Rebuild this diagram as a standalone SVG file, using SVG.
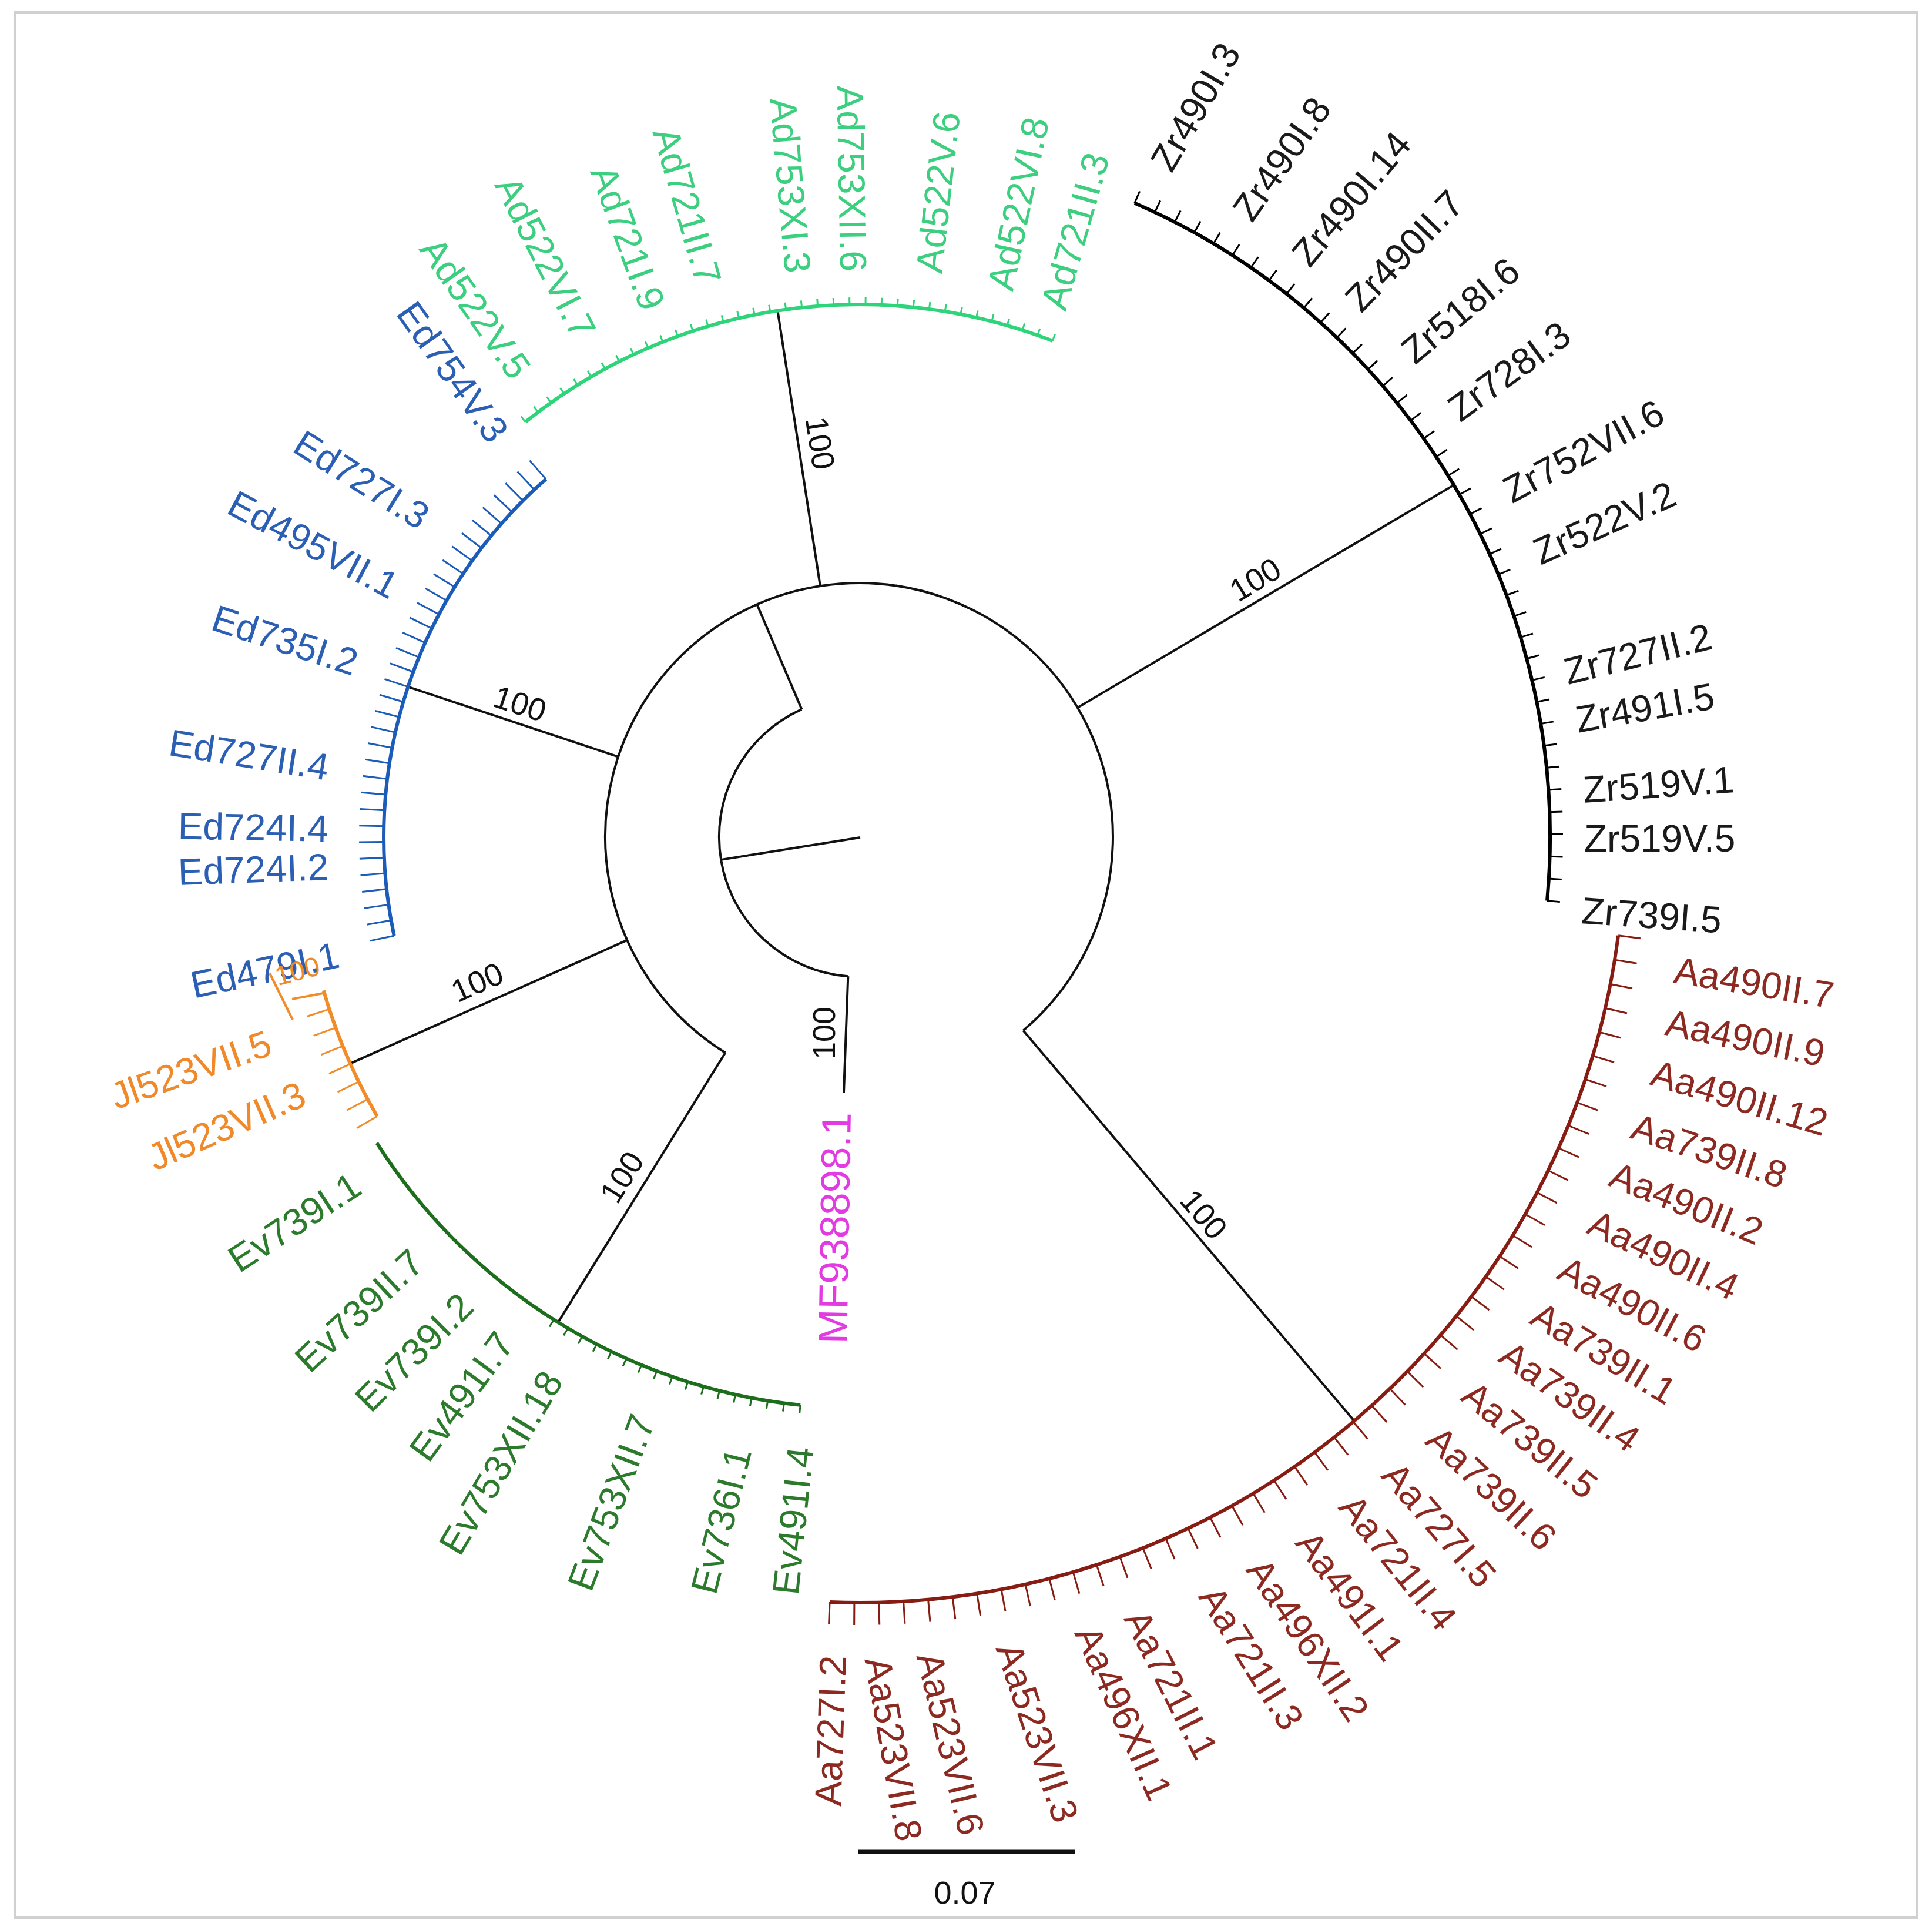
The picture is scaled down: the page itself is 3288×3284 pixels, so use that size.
<svg xmlns="http://www.w3.org/2000/svg" width="3288" height="3284" viewBox="0 0 3288 3284">
<style>
text{font-family:"Liberation Sans",Arial,"DejaVu Sans",sans-serif;dominant-baseline:central}
.lb{font-size:64px}
.s{text-anchor:start}
.e{text-anchor:end}
.bs{font-size:54px;text-anchor:middle;fill:#111}
.bb{fill:none;stroke:#111;stroke-width:4}
.arc{fill:none;stroke-width:6}
.tk{fill:none}
.zr{fill:#1a1a1a}.zrs{stroke:#000}
.aa{fill:#8c2a22}.aas{stroke:#861c12}
.ad{fill:#3ccf7f}.ads{stroke:#2fd47a}
.ed{fill:#2b5fb3}.eds{stroke:#1a5cb8}
.jl{fill:#f0892a}.jls{stroke:#f28c28}
.ev{fill:#2c7a2c}.evs{stroke:#1c6e1c}
.mf{fill:#e23be2;font-size:70px}
</style>
<rect x="0" y="0" width="3288" height="3284" fill="#fff"/>
<rect x="25" y="21" width="3238" height="3242" fill="none" stroke="#d0d0d0" stroke-width="4"/>

<g id="connectors">
<path class="bb" d="M1464,1425 L1227.2,1462.9"/>
<path class="bb" d="M1364.4,1206.9 A238,238 0 0 0 1443.3,1661.3"/>
<path class="bb" d="M1364.4,1206.9 L1289,1030"/>
<path class="bb" d="M1443.3,1661.3 L1436,1859"/>
<path class="bb" d="M1234.4,1791.2 A432,432 0 1 1 1741.4,1753.5"/>
<path class="bb" d="M1234.4,1791.2 L949.8,2250.1"/>
<path class="bb" d="M1067.4,1599.7 L596.0,1809.6"/>
<path class="bb" d="M1052.1,1287.6 L694.4,1168.6"/>
<path class="bb" d="M1395.9,997.1 L1323.4,528.7"/>
<path class="bb" d="M1833.8,1204.1 L2474.2,825.4"/>
<path class="bb" d="M1741.4,1753.5 L2304.8,2417.8"/>
<g id="support-values">
<text class="bs" transform="translate(1396,754) rotate(81)">100</text>
<text class="bs" transform="translate(2136,986) rotate(-31)">100</text>
<text class="bs" transform="translate(885,1197) rotate(18)">100</text>
<text class="bs" transform="translate(812,1671) rotate(-24)">100</text>
<text class="bs" transform="translate(1058,2003) rotate(-58)">100</text>
<text class="bs" transform="translate(2049,2066) rotate(50)">100</text>
<text class="bs" transform="translate(1402,1758) rotate(-90)">100</text>
</g>
</g>

<g id="clade-Zr">
<path class="arc zrs" d="M1930.9,345.5 A1176,1176 0 0 1 2633.0,1532.6"/>
<path class="tk zrs" stroke-width="22" stroke-dasharray="3 35.14" d="M1933.9,334.9 A1187,1187 0 0 1 2643.8,1535.1"/>
<text id="Zr490I.3" class="lb s zr" transform="translate(1975,285) rotate(-60)">Zr490I.3</text>
<text id="Zr490I.8" class="lb s zr" transform="translate(2113,368) rotate(-55)">Zr490I.8</text>
<text id="Zr490I.14" class="lb s zr" transform="translate(2212,443) rotate(-50)">Zr490I.14</text>
<text id="Zr490II.7" class="lb s zr" transform="translate(2301,519) rotate(-46)">Zr490II.7</text>
<text id="Zr518I.6" class="lb s zr" transform="translate(2394,605) rotate(-40)">Zr518I.6</text>
<text id="Zr728I.3" class="lb s zr" transform="translate(2472,702) rotate(-36)">Zr728I.3</text>
<text id="Zr752VII.6" class="lb s zr" transform="translate(2563,838) rotate(-28)">Zr752VII.6</text>
<text id="Zr522V.2" class="lb s zr" transform="translate(2613,942) rotate(-24)">Zr522V.2</text>
<text id="Zr727II.2" class="lb s zr" transform="translate(2663,1144) rotate(-14)">Zr727II.2</text>
<text id="Zr491I.5" class="lb s zr" transform="translate(2682,1225) rotate(-10)">Zr491I.5</text>
<text id="Zr519V.1" class="lb s zr" transform="translate(2694,1344) rotate(-4)">Zr519V.1</text>
<text id="Zr519V.5" class="lb s zr" transform="translate(2696,1427) rotate(0)">Zr519V.5</text>
<text id="Zr739I.5" class="lb s zr" transform="translate(2692,1549) rotate(4)">Zr739I.5</text>
</g>

<g id="clade-Aa">
<path class="arc aas" d="M2754.1,1591.8 A1303,1303 0 0 1 1412.0,2726.0"/>
<path class="tk aas" stroke-width="38" stroke-dasharray="3 39.53" d="M2773.2,1592.8 A1322,1322 0 0 1 1409.8,2745.0"/>
<text id="Aa490II.7" class="lb s aa" transform="translate(2850,1650) rotate(9.3)">Aa490II.7</text>
<text id="Aa490II.9" class="lb s aa" transform="translate(2836,1739) rotate(11.5)">Aa490II.9</text>
<text id="Aa490II.12" class="lb s aa" transform="translate(2812,1824) rotate(16.6)">Aa490II.12</text>
<text id="Aa739II.8" class="lb s aa" transform="translate(2779,1915) rotate(18.5)">Aa739II.8</text>
<text id="Aa490II.2" class="lb s aa" transform="translate(2743,1996) rotate(22)">Aa490II.2</text>
<text id="Aa490II.4" class="lb s aa" transform="translate(2707,2077) rotate(25.2)">Aa490II.4</text>
<text id="Aa490II.6" class="lb s aa" transform="translate(2657,2155) rotate(28)">Aa490II.6</text>
<text id="Aa739II.1" class="lb s aa" transform="translate(2612,2232) rotate(31)">Aa739II.1</text>
<text id="Aa739II.4" class="lb s aa" transform="translate(2560,2297) rotate(35.4)">Aa739II.4</text>
<text id="Aa739II.5" class="lb s aa" transform="translate(2497,2364) rotate(39)">Aa739II.5</text>
<text id="Aa739II.6" class="lb s aa" transform="translate(2438,2439) rotate(43)">Aa739II.6</text>
<text id="Aa727I.5" class="lb s aa" transform="translate(2365,2498) rotate(49)">Aa727I.5</text>
<text id="Aa721II.4" class="lb s aa" transform="translate(2293,2552) rotate(51)">Aa721II.4</text>
<text id="Aa491I.1" class="lb s aa" transform="translate(2220,2613) rotate(53)">Aa491I.1</text>
<text id="Aa496XII.2" class="lb s aa" transform="translate(2137,2659) rotate(56)">Aa496XII.2</text>
<text id="Aa721II.3" class="lb s aa" transform="translate(2057,2705) rotate(58)">Aa721II.3</text>
<text id="Aa721II.1" class="lb s aa" transform="translate(1931,2744) rotate(63)">Aa721II.1</text>
<text id="Aa496XII.1" class="lb s aa" transform="translate(1848,2770) rotate(66)">Aa496XII.1</text>
<text id="Aa523VII.3" class="lb s aa" transform="translate(1715,2798) rotate(71.5)">Aa523VII.3</text>
<text id="Aa523VII.6" class="lb s aa" transform="translate(1581,2813) rotate(76.6)">Aa523VII.6</text>
<text id="Aa523VII.8" class="lb s aa" transform="translate(1493,2820) rotate(80)">Aa523VII.8</text>
<text id="Aa727I.2" class="lb e aa" transform="translate(1418,2817) rotate(-88)">Aa727I.2</text>
</g>

<g id="clade-Ad">
<path class="arc ads" d="M894.3,717.9 A906,906 0 0 1 1791.1,579.9"/>
<path class="tk ads" stroke-width="12" stroke-dasharray="3 24.33" d="M889.4,714.2 A912,912 0 0 1 1794.7,574.8"/>
<text id="Ad522V.5" class="lb e ad" transform="translate(888,637) rotate(55)">Ad522V.5</text>
<text id="Ad522VI.7" class="lb e ad" transform="translate(996,571) rotate(63)">Ad522VI.7</text>
<text id="Ad721I.9" class="lb e ad" transform="translate(1112,525) rotate(70)">Ad721I.9</text>
<text id="Ad721II.7" class="lb e ad" transform="translate(1207,482) rotate(74)">Ad721II.7</text>
<text id="Ad753XI.3" class="lb e ad" transform="translate(1358,464) rotate(85)">Ad753XI.3</text>
<text id="Ad753XII.6" class="lb e ad" transform="translate(1452,462) rotate(89)">Ad753XII.6</text>
<text id="Ad522V.6" class="lb s ad" transform="translate(1581,464) rotate(-83.5)">Ad522V.6</text>
<text id="Ad522VI.8" class="lb s ad" transform="translate(1702,493) rotate(-78)">Ad522VI.8</text>
<text id="Ad721II.3" class="lb s ad" transform="translate(1792,525) rotate(-74)">Ad721II.3</text>
</g>

<g id="clade-Ed">
<path class="arc eds" d="M670.7,1592.2 A809,809 0 0 1 929.1,815.3"/>
<path class="tk eds" stroke-width="42" stroke-dasharray="3 24.52" d="M650.5,1598.0 A830,830 0 0 1 916.4,798.5"/>
<text id="Ed754V.3" class="lb e ed" transform="translate(850,745) rotate(54.6)">Ed754V.3</text>
<text id="Ed727I.3" class="lb e ed" transform="translate(724,884) rotate(32)">Ed727I.3</text>
<text id="Ed495VII.1" class="lb e ed" transform="translate(673,1001) rotate(28)">Ed495VII.1</text>
<text id="Ed735I.2" class="lb e ed" transform="translate(607,1129) rotate(18)">Ed735I.2</text>
<text id="Ed727II.4" class="lb e ed" transform="translate(559,1306) rotate(9)">Ed727II.4</text>
<text id="Ed724I.4" class="lb e ed" transform="translate(559,1410) rotate(1)">Ed724I.4</text>
<text id="Ed724I.2" class="lb e ed" transform="translate(559,1475) rotate(-2)">Ed724I.2</text>
<text id="Ed479I.1" class="lb e ed" transform="translate(576,1624) rotate(-12)">Ed479I.1</text>
</g>

<g id="clade-Jl">
<path class="arc jls" d="M641.8,1899.4 A948,948 0 0 1 550.7,1685.3"/>
<path class="tk jls" stroke-width="40" stroke-dasharray="3 31.03" d="M625.3,1910.8 A968,968 0 0 1 531.9,1692.3"/>
<path class="jls" fill="none" stroke-width="4" d="M550,1690 L497,1700 M459,1656 L498,1735"/>
<text class="jl" font-size="46" text-anchor="middle" transform="translate(506,1652) rotate(-15)">100</text>
<text id="Jl523VII.5" class="lb e jl" transform="translate(459,1773) rotate(-19.4)">Jl523VII.5</text>
<text id="Jl523VII.3" class="lb e jl" transform="translate(516,1859) rotate(-23.6)">Jl523VII.3</text>
</g>

<g id="clade-Ev">
<path class="arc evs" d="M1362.1,2390.8 A972,972 0 0 1 641.3,1944.8"/>
<path class="tk evs" stroke-width="14" stroke-dasharray="3 25.19" d="M1362.9,2398.0 A979,979 0 0 1 937.6,2250.7"/>
<text id="Ev739I.1" class="lb e ev" transform="translate(607,2011) rotate(-33)">Ev739I.1</text>
<text id="Ev739II.7" class="lb e ev" transform="translate(710,2138) rotate(-43)">Ev739II.7</text>
<text id="Ev739I.2" class="lb e ev" transform="translate(794,2212) rotate(-45)">Ev739I.2</text>
<text id="Ev491I.7" class="lb e ev" transform="translate(860,2274) rotate(-54)">Ev491I.7</text>
<text id="Ev753XII.18" class="lb e ev" transform="translate(941,2339) rotate(-59.4)">Ev753XII.18</text>
<text id="Ev753XII.7" class="lb e ev" transform="translate(1095,2410) rotate(-69.5)">Ev753XII.7</text>
<text id="Ev736I.1" class="lb e ev" transform="translate(1258,2465) rotate(-76)">Ev736I.1</text>
<text id="Ev491I.4" class="lb e ev" transform="translate(1363,2462) rotate(-84)">Ev491I.4</text>
</g>

<g id="MF938898.1">
<text class="e mf" transform="translate(1424,1893) rotate(-89)">MF938898.1</text>
</g>

<g id="scale-bar">
<line x1="1461" y1="3151" x2="1829" y2="3151" stroke="#111" stroke-width="7"/>
<text x="1642" y="3220" font-size="54" text-anchor="middle" fill="#111">0.07</text>
</g>
</svg>
